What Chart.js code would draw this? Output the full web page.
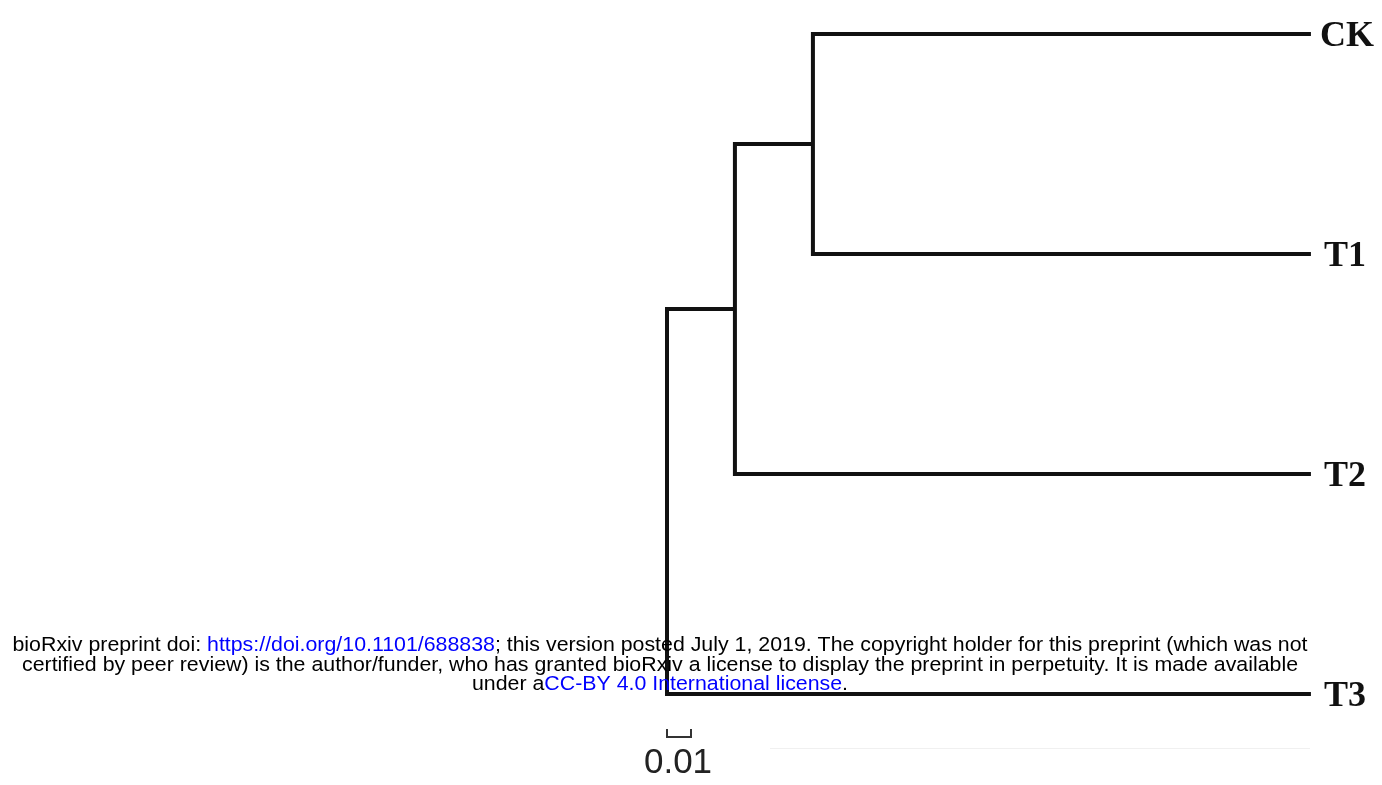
<!DOCTYPE html>
<html>
<head>
<meta charset="utf-8">
<script src="https://cdn.jsdelivr.net/npm/chart.js@4/dist/chart.umd.min.js"></script>
<style>
  html,body{margin:0;padding:0;background:#fff;}
  #wrap{width:1382px;height:785px;position:relative;}
</style>
</head>
<body>
<div id="wrap"><canvas id="tree"></canvas></div>
<script>
'use strict';
// tree: node names, their parents and branch lengths (substitutions/site)
const nodes      = ['CK', 'T1', 'T2', 'T3', 'n1', 'n2'];
const parents    = ['n1', 'n1', 'n2', 'root', 'n2', 'root'];
const branchLen  = [0.2075, 0.2075, 0.2400, 0.2683, 0.0325, 0.0283];
const leaves     = ['CK', 'T1', 'T2', 'T3'];
const scaleBar   = 0.01;
const scaleLabel = '0.01';

const stampLines = [
  [['bioRxiv preprint doi: ','#000'],['https://doi.org/10.1101/688838','#0000ff'],['; this version posted July 1, 2019. The copyright holder for this preprint (which was not','#000']],
  [['certified by peer review) is the author/funder, who has granted bioRxiv a license to display the preprint in perpetuity. It is made available','#000']],
  [['under a','#000'],['CC-BY 4.0 International license','#0000ff'],['.','#000']]
];

function depth(n){
  if(n==='root') return 0;
  const i=nodes.indexOf(n);
  return depth(parents[i])+branchLen[i];
}
function childrenOf(n){
  return nodes.filter((c,i)=>parents[i]===n);
}
function yOf(n){
  const li=leaves.indexOf(n);
  if(li>=0) return li;
  const ch=childrenOf(n);
  return ch.reduce((s,c)=>s+yOf(c),0)/ch.length;
}

// one bracket per internal node
const datasets=['n1','n2','root'].map(n=>{
  const ch=childrenOf(n).sort((a,b)=>yOf(a)-yOf(b));
  const a=ch[0], b=ch[ch.length-1], x=depth(n);
  return {
    data:[{x:depth(a),y:yOf(a)},{x:x,y:yOf(a)},{x:x,y:yOf(b)},{x:depth(b),y:yOf(b)}],
    showLine:true, pointRadius:0, borderColor:'#111', borderWidth:4,
    borderJoinStyle:'miter', borderCapStyle:'butt', tension:0
  };
});

const decor={
  id:'decor',
  afterDatasetsDraw(chart){
    const ctx=chart.ctx, xs=chart.scales.x, ys=chart.scales.y;
    ctx.save();
    // leaf labels
    ctx.fillStyle='#111';
    ctx.font='bold 36px "Liberation Serif", "Times New Roman", serif';
    ctx.textBaseline='alphabetic';
    leaves.forEach(l=>{
      const off = l.charAt(0)==='T' ? 13 : 9;
      ctx.fillText(l, xs.getPixelForValue(depth(l))+off, ys.getPixelForValue(yOf(l))+12);
    });
    // scale bar
    const x0=xs.getPixelForValue(0), x1=xs.getPixelForValue(scaleBar);
    ctx.strokeStyle='#333'; ctx.lineWidth=2;
    ctx.beginPath();
    ctx.moveTo(x0,729); ctx.lineTo(x0,737); ctx.lineTo(x1,737); ctx.lineTo(x1,729);
    ctx.stroke();
    ctx.fillStyle='#222';
    ctx.font='35px "Liberation Sans", Arial, sans-serif';
    ctx.textAlign='center';
    ctx.fillText(scaleLabel,(x0+x1)/2-1,773);
    // faint scan artefact
    ctx.strokeStyle='#f0f0f0'; ctx.lineWidth=1;
    ctx.beginPath(); ctx.moveTo(770,748.5); ctx.lineTo(1310,748.5); ctx.stroke();
    ctx.restore();
  },
  afterDraw(chart){
    const ctx=chart.ctx;
    ctx.save();
    ctx.font='20.5px "Liberation Sans", Arial, sans-serif';
    ctx.textBaseline='alphabetic';
    ctx.textAlign='left';
    const w0=stampLines[0].reduce((s,p)=>s+ctx.measureText(p[0]).width,0);
    const sx=1295/w0;
    const base=[651,670.5,690];
    stampLines.forEach((line,k)=>{
      const w=line.reduce((s,p)=>s+ctx.measureText(p[0]).width,0);
      ctx.save();
      ctx.translate(660,base[k]);
      ctx.scale(sx,1);
      let x=-w/2;
      line.forEach(p=>{
        ctx.fillStyle=p[1];
        ctx.fillText(p[0],x,0);
        x+=ctx.measureText(p[0]).width;
      });
      ctx.restore();
    });
    ctx.restore();
  }
};

new Chart(document.getElementById('tree').getContext('2d'),{
  type:'scatter',
  data:{datasets},
  options:{
    responsive:true,
    maintainAspectRatio:false,
    animation:false,
    layout:{padding:0},
    plugins:{legend:{display:false},tooltip:{enabled:false}},
    scales:{
      x:{type:'linear',display:false,min:-667/2400,max:(1382-667)/2400},
      y:{type:'linear',display:false,reverse:true,min:-34/220,max:(785-34)/220}
    }
  },
  plugins:[decor]
});
</script>
</body>
</html>
